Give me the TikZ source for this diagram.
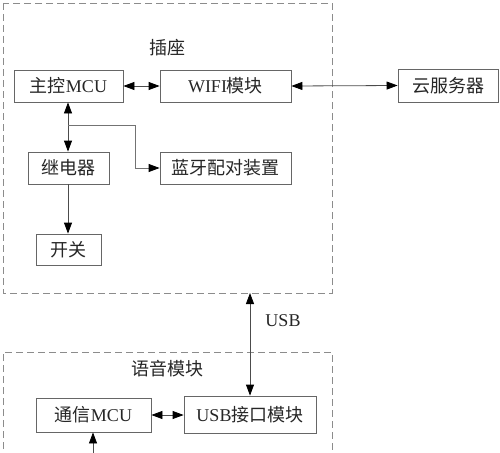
\documentclass[tikz,border=0pt]{standalone}
\usepackage{fontspec}
\setmainfont{Liberation Serif}
\newfontfamily\cjk{Noto Sans CJK SC}
\usetikzlibrary{arrows.meta}
\begin{document}
\begin{tikzpicture}[x=1pt,y=-1pt,
  blk/.style={draw=black!60,line width=0.8pt,minimum height=32pt,inner sep=0pt,font=\fontsize{18}{21}\selectfont,text=black!85},
  grp/.style={draw=black!45,line width=0.8pt,dash pattern=on 7pt off 4pt},
  lab/.style={font=\fontsize{18}{21}\selectfont,text=black!85},
  con/.style={draw=black!70,line width=0.8pt},
  dbl/.style={con,{Triangle[length=11pt,width=8pt,color=black,fill=black]}-{Triangle[length=11pt,width=8pt,color=black,fill=black]}},
  one/.style={con,-{Triangle[length=11pt,width=8pt,color=black,fill=black]}}]
\useasboundingbox (0,0) rectangle (500,452);
\clip (0,0) rectangle (500,452);
\fill[white] (0,0) rectangle (500,452);
% groups
\draw[grp] (3,3) rectangle (332,293);
\draw[grp] (3,460) -- (3,352) -- (332,352) -- (332,460);
\node[lab] (tlab) at (167,48) {\cjk 插座};
\node[lab] (blab) at (167,369) {\cjk 语音模块};
% blocks
\node[blk,minimum width=109pt] (mcu) at (68.5,86) {{\cjk 主控}MCU};
\node[blk,minimum width=131pt] (wifi) at (225.5,86) {WIFI{\cjk 模块}};
\node[blk,minimum width=100pt,minimum height=33pt] (cloud) at (448,85.5) {\cjk 云服务器};
\node[blk,minimum width=81pt] (relay) at (68.5,168) {\cjk 继电器};
\node[blk,minimum width=131pt] (bt) at (225.5,168) {\cjk 蓝牙配对装置};
\node[blk,minimum width=65pt,minimum height=31pt] (sw) at (68.5,249.5) {\cjk 开关};
\node[blk,minimum width=115pt,minimum height=34pt] (cmcu) at (93.5,415) {{\cjk 通信}MCU};
\node[blk,minimum width=132pt,minimum height=37pt] (usbm) at (250,414.5) {USB{\cjk 接口模块}};
\coordinate (topbot) at (250,293);
\coordinate (br) at (68,125);
\coordinate (bin) at (93,460);
% connectors
\draw[dbl] (mcu.east) -- (wifi.west);
\draw[dbl] (wifi.east) -- (cloud.west);
\draw[dbl] (mcu.south -| br) -- (relay.north -| br);
\draw[one,draw=black!55] (br) -| (135,168) -- (bt.west);
\draw[one] (relay.south -| br) -- (sw.north -| br);
\draw[dbl] (topbot) -- (usbm.north);
\node[lab] (usbl) at (283,321) {USB};
\draw[dbl] (cmcu.east) -- (cmcu.east -| usbm.west);
\draw[one] (bin) -- (cmcu.south -| bin);
\end{tikzpicture}
\end{document}
